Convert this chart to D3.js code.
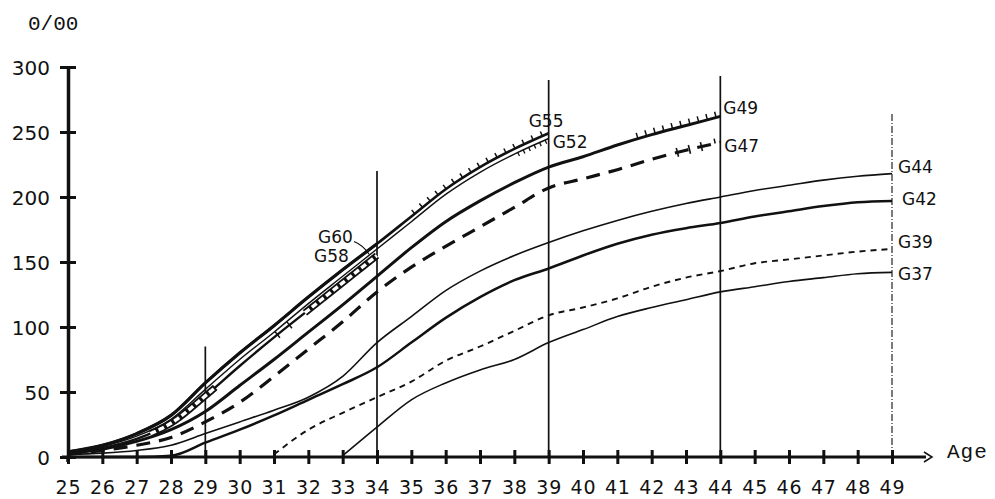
<!DOCTYPE html>
<html><head><meta charset="utf-8">
<script src="https://cdn.jsdelivr.net/npm/d3@7"></script>
<style>html,body{margin:0;padding:0;background:#fff;}svg{display:block;}</style>
</head><body>
<svg id="c" width="995" height="499"></svg>
<script>
// ---------- data ----------
const xTicks = [25,26,27,28,29,30,31,32,33,34,35,36,37,38,39,40,41,42,43,44,45,46,47,48,49];
const yTicks = [0,50,100,150,200,250,300];
const unitLabel = "0/00";
const axisLabel = "Age";

// cohort curves: values start at given first age
const g60 = [4, 9, 18, 32, 57, 80, 101, 123, 144, 164];                      // 25-34
const g58 = [3, 7, 14, 26, 47, 70, 92, 113, 134, 155];                       // 25-34
const g55 = [4, 9, 18, 32, 57, 80, 101, 123, 144, 164, 185, 206, 223, 237, 249]; // 25-39
const g52 = [3, 8, 16, 29, 52, 75, 96, 118, 139, 160, 181, 202, 219, 233, 245];  // 25-39
const g49 = [3, 6, 12, 21, 35, 55, 75, 96, 117, 139, 161, 181, 197, 211, 223, 231, 240, 248, 255, 262]; // 25-44
const g47 = [2, 5, 9, 15, 27, 42, 62, 83, 104, 127, 146, 162, 177, 192, 207, 214, 221, 229, 236, 242]; // 25-44
const g44 = [2, 3, 5, 9, 18, 27, 36, 46, 62, 88, 108, 128, 143, 155, 165, 174, 182, 189, 195, 200, 205, 209, 213, 216, 218]; // 25-49
const g42 = [0, 0, 0, 1, 11, 21, 32, 44, 56, 69, 88, 107, 123, 136, 145, 155, 164, 171, 176, 180, 185, 189, 193, 196, 197]; // 25-49
const g39 = [2, 21, 34, 46, 58, 74, 85, 97, 109, 115, 122, 131, 138, 143, 149, 152, 155, 158, 160]; // 31-49
const g37 = [1, 23, 44, 57, 67, 75, 88, 98, 108, 115, 121, 127, 131, 135, 138, 141, 142];           // 33-49

const cohortNames  = ["G37","G39","G42","G44","G47","G49","G52","G55","G58","G60"];
const cohortStarts = [33, 31, 25, 25, 25, 25, 25, 25, 25, 25];
const cohortValues = [g37, g39, g42, g44, g47, g49, g52, g55, g58, g60];

const vlineAges = [29, 34, 39, 44, 49];
const vlineTops = [85, 220, 290, 293, 264];

// ---------- styles ----------
const styles = {
  G60:{w:3.2, dash:null},
  G58:{w:2.4, dash:null},
  G55:{w:2.6, dash:null},
  G52:{w:1.4, dash:null},
  G49:{w:3.0, dash:null},
  G47:{w:3.2, dash:"14,9"},
  G44:{w:1.6, dash:null},
  G42:{w:2.5, dash:null},
  G39:{w:1.9, dash:"6,5"},
  G37:{w:1.6, dash:null}
};
const ink = "#111";

const svg = d3.select("#c");
const x = d3.scaleLinear().domain([25,49]).range([68, 892]);
const y = d3.scaleLinear().domain([0,300]).range([457, 67]);

// ---------- vertical reference lines ----------
svg.append("g").selectAll("line").data(vlineAges).join("line")
  .attr("x1", d=>x(d)).attr("x2", d=>x(d))
  .attr("y1", y(0)).attr("y2", (d,i)=>y(vlineTops[i]))
  .attr("stroke", (d,i)=> i===4 ? "#444" : ink)
  .attr("stroke-width", (d,i)=> i===4 ? 1.4 : 1.7)
  .attr("stroke-dasharray", (d,i)=> i===4 ? "7,2,1,2" : null);

// ---------- axes ----------
const gy = svg.append("g").attr("transform", `translate(${x(25)},0)`)
  .call(d3.axisLeft(y).tickValues(yTicks).tickSize(8).tickSizeOuter(0).tickPadding(10));
gy.select(".domain").attr("stroke", ink).attr("stroke-width", 3.5);
gy.selectAll(".tick line").attr("x1", -8).attr("x2", 8).attr("stroke", ink).attr("stroke-width", 3);
gy.selectAll(".tick text").attr("fill", ink).attr("font-family", "DejaVu Sans").attr("font-size", 20).attr("dy", "0.36em");

const gx = svg.append("g").attr("transform", `translate(0,${y(0)})`)
  .call(d3.axisBottom(x).tickValues(xTicks).tickSize(7).tickSizeOuter(0));
gx.select(".domain").remove();
gx.selectAll(".tick line").attr("y1", -7).attr("y2", 7).attr("stroke", ink).attr("stroke-width", 3);
gx.selectAll(".tick text").attr("fill", ink).attr("font-family", "DejaVu Sans").attr("font-size", 19)
  .attr("letter-spacing", "0.8px").attr("y", 37).attr("dy", null);

const axEnd = x(49) + 34;
svg.append("line").attr("x1", x(25)-6).attr("x2", axEnd).attr("y1", y(0)).attr("y2", y(0))
  .attr("stroke", ink).attr("stroke-width", 3);
svg.append("line").attr("x1", x(25)).attr("x2", x(25)).attr("y1", y(0)).attr("y2", y(0)+5)
  .attr("stroke", ink).attr("stroke-width", 3.5);
svg.append("path").attr("d", `M${axEnd-2},${y(0)-5}L${axEnd+6},${y(0)}L${axEnd-2},${y(0)+5}`)
  .attr("fill","none").attr("stroke", ink).attr("stroke-width", 1.5);

svg.append("text").attr("x", 28).attr("y", 30).text(unitLabel)
  .attr("font-family", "Liberation Mono").attr("font-size", 21).attr("fill", ink);
svg.append("text").attr("x", 947).attr("y", 458).text(axisLabel)
  .attr("font-family", "Liberation Mono").attr("font-size", 21).attr("letter-spacing","1px").attr("fill", ink);

// ---------- curves ----------
const line = d3.line().x(d=>x(d.age)).y(d=>y(d.v)).curve(d3.curveMonotoneX);
const series = cohortNames.map((n,i)=>({name:n, pts: cohortValues[i].map((v,j)=>({age: cohortStarts[i]+j, v}))}));
const paths = {};
series.forEach(s=>{
  const st = styles[s.name];
  paths[s.name] = svg.append("path").datum(s.pts).attr("d", line)
    .attr("fill","none").attr("stroke", ink).attr("stroke-width", st.w)
    .attr("stroke-dasharray", st.dash).attr("stroke-linejoin","round").node();
});

// helpers to place decorations along a drawn curve
function lenAtX(node, xt){
  const L = node.getTotalLength(); let lo=0, hi=L;
  for(let i=0;i<30;i++){ const m=(lo+hi)/2; if(node.getPointAtLength(m).x < xt) lo=m; else hi=m; }
  return lo;
}
function sample(node, a0, a1, step){
  const L = node.getTotalLength();
  const la = lenAtX(node, x(a0)), lb = lenAtX(node, x(a1));
  const out = [];
  for(let l=la; l<=lb+0.01; l+=step){
    const p = node.getPointAtLength(l);
    const p0 = node.getPointAtLength(Math.max(0,l-0.6)), p1 = node.getPointAtLength(Math.min(L,l+0.6));
    out.push({x:p.x, y:p.y, a:Math.atan2(p1.y-p0.y, p1.x-p0.x)});
  }
  return out;
}
function hatch(name, a0, a1, step, len, side, w){
  const pts = sample(paths[name], a0, a1, step);
  svg.append("g").selectAll("line").data(pts).join("line")
    .attr("x1", d=>d.x).attr("y1", d=>d.y)
    .attr("x2", d=>d.x + side*Math.sin(d.a)*len).attr("y2", d=>d.y - side*Math.cos(d.a)*len)
    .attr("stroke", ink).attr("stroke-width", w);
}
function crosses(name, ages, len, w){
  const pts = ages.map(a=>sample(paths[name], a, a, 1)[0]);
  svg.append("g").selectAll("line").data(pts).join("line")
    .attr("x1", d=>d.x - Math.sin(d.a)*len/2).attr("y1", d=>d.y + Math.cos(d.a)*len/2)
    .attr("x2", d=>d.x + Math.sin(d.a)*len/2).attr("y2", d=>d.y - Math.cos(d.a)*len/2)
    .attr("stroke", ink).attr("stroke-width", w);
}
function boxChain(name, a0, a1){
  const pts = sample(paths[name], a0, a1, 1).map(d=>[d.x,d.y]);
  const pl = d3.line();
  svg.append("path").attr("d", pl(pts)).attr("fill","none").attr("stroke", ink).attr("stroke-width", 7);
  svg.append("path").attr("d", pl(pts)).attr("fill","none").attr("stroke", "#fff").attr("stroke-width", 3.4)
    .attr("stroke-dasharray", "6,3");
}

hatch("G55", 35.1, 38.9, 10, 5, 1, 1.5);
hatch("G52", 38.1, 38.9, 6, 4, -1, 1.3);
hatch("G49", 41.6, 43.9, 9, 6, 1, 1.5);
crosses("G47", [42.75, 43.1, 43.45], 9, 1.6);
hatch("G47", 43.85, 43.85, 1, 5, 1, 1.5);
boxChain("G58", 27.4, 29.3);
boxChain("G58", 31.9, 34);
crosses("G58", [31.1, 31.45], 8, 1.5);

// ---------- labels ----------
const lab = [
  ["G60", x(34)-59, y(165)], ["G58", x(34)-63, y(150)],
  ["G55", x(39)-20, y(254)], ["G52", x(39)+4, y(238)],
  ["G49", x(44)+3, y(264)], ["G47", x(44)+4, y(235)],
  ["G44", x(49)+6, y(218.5)], ["G42", x(49)+10, y(194)],
  ["G39", x(49)+6, y(161)], ["G37", x(49)+6, y(136)]
];
svg.append("g").selectAll("text").data(lab).join("text")
  .attr("x", d=>d[1]).attr("y", d=>d[2]).text(d=>d[0])
  .attr("font-family", "DejaVu Sans").attr("font-size", 17).attr("fill", ink);
// leader from G60 label to curve end
svg.append("path").attr("d", `M${x(34)-23},${y(165)-1}Q${x(34)-14},${y(163)} ${x(34)-8},${y(156)}`)
  .attr("fill","none").attr("stroke", ink).attr("stroke-width", 1.3);
</script>
</body></html>
